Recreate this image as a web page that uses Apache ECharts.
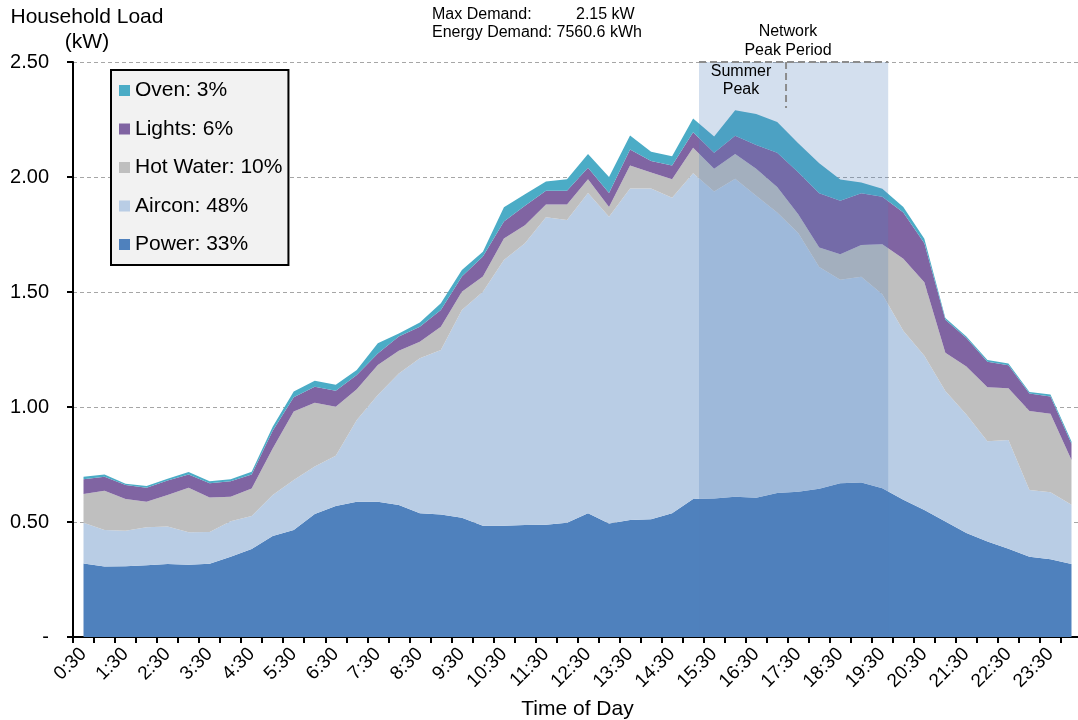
<!DOCTYPE html>
<html>
<head>
<meta charset="utf-8">
<script src="https://cdn.jsdelivr.net/npm/echarts@6/dist/echarts.min.js"></script>
<style>
html,body{margin:0;padding:0;background:#fff;}
#chart{width:1078px;height:720px;}
</style>
</head>
<body>
<div id="chart"></div>
<script>
// ---- data ----
const timeLabels = ['0:30','1:00','1:30','2:00','2:30','3:00','3:30','4:00','4:30','5:00','5:30','6:00',
  '6:30','7:00','7:30','8:00','8:30','9:00','9:30','10:00','10:30','11:00','11:30','12:00',
  '12:30','13:00','13:30','14:00','14:30','15:00','15:30','16:00','16:30','17:00','17:30','18:00',
  '18:30','19:00','19:30','20:00','20:30','21:00','21:30','22:00','22:30','23:00','23:30','24:00'];

const seriesNames = ['Power', 'Aircon', 'Hot Water', 'Lights', 'Oven'];
const sharePct = [33, 48, 10, 6, 3];

const power = [0.320,0.306,0.308,0.312,0.317,0.314,0.319,0.349,0.383,0.439,0.465,0.535,
  0.570,0.588,0.588,0.574,0.538,0.533,0.519,0.484,0.484,0.487,0.488,0.497,
  0.538,0.494,0.509,0.512,0.538,0.600,0.602,0.610,0.605,0.626,0.631,0.645,
  0.669,0.672,0.647,0.597,0.552,0.502,0.452,0.415,0.384,0.349,0.338,0.317];

const aircon = [0.177,0.159,0.154,0.165,0.163,0.141,0.138,0.154,0.143,0.178,0.218,0.206,
  0.218,0.355,0.464,0.572,0.674,0.715,0.903,1.017,1.155,1.225,1.337,1.316,
  1.392,1.333,1.441,1.438,1.372,1.416,1.335,1.382,1.313,1.220,1.125,0.964,
  0.884,0.894,0.843,0.734,0.671,0.568,0.515,0.436,0.472,0.290,0.291,0.258];

const hotWater = [0.125,0.171,0.138,0.111,0.137,0.194,0.149,0.107,0.120,0.203,0.297,0.278,
  0.213,0.134,0.131,0.099,0.072,0.101,0.079,0.066,0.094,0.078,0.055,0.067,
  0.060,0.043,0.100,0.070,0.080,0.111,0.099,0.108,0.118,0.111,0.082,0.084,
  0.111,0.138,0.218,0.314,0.319,0.166,0.209,0.235,0.225,0.344,0.342,0.195];

const lights = [0.064,0.061,0.061,0.061,0.063,0.058,0.062,0.067,0.060,0.077,0.062,0.069,
  0.070,0.062,0.050,0.061,0.065,0.073,0.066,0.087,0.073,0.085,0.060,0.060,
  0.050,0.060,0.070,0.050,0.060,0.068,0.069,0.079,0.103,0.148,0.183,0.236,
  0.233,0.225,0.206,0.201,0.170,0.143,0.124,0.111,0.100,0.076,0.075,0.070];

const oven = [0.011,0.009,0.005,0.008,0.008,0.010,0.009,0.009,0.013,0.017,0.025,0.026,
  0.026,0.022,0.044,0.014,0.018,0.029,0.029,0.021,0.062,0.050,0.040,0.050,
  0.060,0.070,0.060,0.040,0.040,0.059,0.071,0.111,0.135,0.134,0.126,0.131,
  0.092,0.047,0.035,0.024,0.019,0.008,0.007,0.007,0.008,0.006,0.008,0.010];

const yTicks = [0, 0.5, 1.0, 1.5, 2.0, 2.5];

// peak period annotation (hours of day)
const peakStartHour = 15.14;
const peakEndHour = 19.64;
const summerPeakHour = 17.21;
const summerMarkBottom = 2.30;

const colors = ['#4f81bd', '#b9cde5', '#bfbfbf', '#8064a2', '#4bacc6'];
const values = [power, aircon, hotWater, lights, oven];
const FONT = '"Liberation Sans", Arial, sans-serif';

const chart = echarts.init(document.getElementById('chart'), null, {renderer: 'canvas'});

const areaSeries = seriesNames.map((n, k) => ({
  name: n,
  type: 'line',
  stack: 'total',
  data: values[k],
  symbol: 'none',
  showSymbol: false,
  lineStyle: {width: 0},
  itemStyle: {color: colors[k]},
  areaStyle: {color: colors[k], opacity: 1},
  emphasis: {disabled: true},
  z: 2
}));

const overlaySeries = {
  type: 'custom',
  xAxisIndex: 1,
  yAxisIndex: 0,
  z: 5,
  silent: true,
  data: [[peakStartHour, peakEndHour, summerPeakHour, summerMarkBottom]],
  renderItem: function (params, api) {
    const tl = api.coord([api.value(0), yTicks[yTicks.length - 1]]);
    const br = api.coord([api.value(1), 0]);
    const vTop = api.coord([api.value(2), yTicks[yTicks.length - 1]]);
    const vBot = api.coord([api.value(2), api.value(3)]);
    return {
      type: 'group',
      children: [
        {type: 'rect', shape: {x: tl[0], y: tl[1], width: br[0] - tl[0], height: br[1] - tl[1]},
          style: {fill: 'rgba(79,129,189,0.25)'}},
        {type: 'line', shape: {x1: tl[0], y1: tl[1], x2: br[0], y2: tl[1]},
          style: {stroke: '#8c8c8c', lineWidth: 2, lineDash: [7, 4]}},
        {type: 'line', shape: {x1: vTop[0], y1: vTop[1], x2: vBot[0], y2: vBot[1]},
          style: {stroke: '#8c8c8c', lineWidth: 2, lineDash: [7, 4]}}
      ]
    };
  }
};

const option = {
  animation: false,
  backgroundColor: '#ffffff',
  textStyle: {fontFamily: FONT},
  grid: {left: 73, right: -4, top: 62, bottom: 83, containLabel: false, outerBoundsMode: 'none'},
  legend: {
    orient: 'vertical',
    left: 111, top: 70,
    data: seriesNames.slice().reverse(),
    formatter: function (name) { return name + ': ' + sharePct[seriesNames.indexOf(name)] + '%'; },
    icon: 'rect',
    itemWidth: 11, itemHeight: 11,
    itemGap: 17.5,
    padding: [10, 6, 10, 8],
    backgroundColor: '#f2f2f2',
    borderColor: '#000',
    borderWidth: 2,
    borderRadius: 0,
    selectedMode: false,
    textStyle: {fontSize: 21, fontFamily: FONT, color: '#000', lineHeight: 21}
  },
  xAxis: [{
    type: 'category',
    data: timeLabels,
    boundaryGap: true,
    name: 'Time of Day',
    nameLocation: 'middle',
    nameGap: 56,
    nameTextStyle: {fontSize: 21, fontFamily: FONT, color: '#000'},
    axisLine: {show: true, lineStyle: {color: '#000', width: 2}},
    axisTick: {show: true, interval: 0, length: 6, lineStyle: {color: '#000', width: 2}},
    axisLabel: {interval: 1, rotate: 45, fontSize: 19, fontFamily: FONT, color: '#000', margin: 14},
    splitLine: {show: false}
  }, {
    type: 'value',
    min: 0.25, max: 24.25,
    show: false
  }],
  yAxis: {
    type: 'value',
    min: 0, max: 2.5, interval: 0.5,
    axisLine: {show: true, lineStyle: {color: '#000', width: 2}},
    axisTick: {show: true, length: 6, lineStyle: {color: '#000', width: 2}},
    axisLabel: {
      fontSize: 20, fontFamily: FONT, color: '#000', margin: 24,
      formatter: function (v) { return v === 0 ? '-' : v.toFixed(2); }
    },
    splitLine: {show: true, lineStyle: {color: '#a6a6a6', width: 1, type: [4, 3]}}
  },
  graphic: [
    {type: 'text', x: 87, y: 5, silent: true,
      style: {text: 'Household Load\n(kW)', fontSize: 21, fontFamily: FONT, fill: '#000', align: 'center', lineHeight: 25}},
    {type: 'text', x: 432, y: 15, silent: true,
      style: {text: 'Max Demand:', fontSize: 16, fontFamily: FONT, fill: '#000', align: 'left', verticalAlign: 'middle'}},
    {type: 'text', x: 576, y: 15, silent: true,
      style: {text: '2.15 kW', fontSize: 16, fontFamily: FONT, fill: '#000', align: 'left', verticalAlign: 'middle'}},
    {type: 'text', x: 432, y: 33, silent: true,
      style: {text: 'Energy Demand: 7560.6 kWh', fontSize: 16, fontFamily: FONT, fill: '#000', align: 'left', verticalAlign: 'middle'}},
    {type: 'text', x: 788, y: 32, silent: true,
      style: {text: 'Network', fontSize: 16, fontFamily: FONT, fill: '#000', align: 'center', verticalAlign: 'middle'}},
    {type: 'text', x: 788, y: 51, silent: true,
      style: {text: 'Peak Period', fontSize: 16, fontFamily: FONT, fill: '#000', align: 'center', verticalAlign: 'middle'}},
    {type: 'text', x: 741, y: 72, silent: true, z: 10,
      style: {text: 'Summer', fontSize: 16, fontFamily: FONT, fill: '#000', align: 'center', verticalAlign: 'middle'}},
    {type: 'text', x: 741, y: 90, silent: true, z: 10,
      style: {text: 'Peak', fontSize: 16, fontFamily: FONT, fill: '#000', align: 'center', verticalAlign: 'middle'}}
  ],
  series: areaSeries.concat([overlaySeries])
};

chart.setOption(option);
</script>
</body>
</html>
